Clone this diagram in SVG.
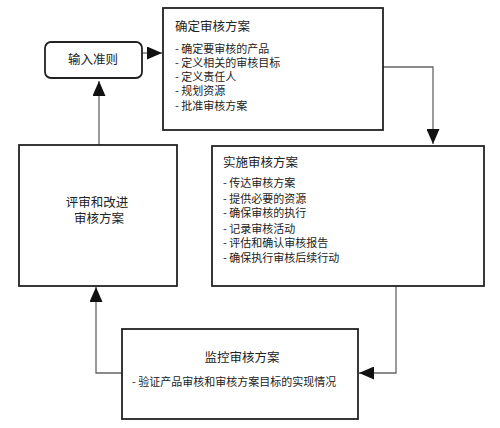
<svg xmlns="http://www.w3.org/2000/svg" width="500" height="428" viewBox="0 0 500 428">
<style>
.box{fill:#fff;stroke:#222;stroke-width:1.8}
.conn{fill:none;stroke:#666;stroke-width:1.3}
text{font-family:"Noto Sans CJK SC","Noto Sans",sans-serif;fill:#222}
.t{font-size:12.5px}
.b{font-size:11px}
</style>
<defs>
<marker id="ah" markerUnits="userSpaceOnUse" markerWidth="15" markerHeight="13" refX="15" refY="6.5" orient="auto">
<path d="M0,0 L15,6.5 L0,13 z" fill="#111"/>
</marker>
</defs>
<rect width="500" height="428" fill="#fff"/>
<g id="connectors">
<path class="conn" d="M142,53 L162,53" marker-end="url(#ah)"/>
<path class="conn" d="M383,67 L433,67 L433,144" marker-end="url(#ah)"/>
<path class="conn" d="M396,286 L396,373 L359,373" marker-end="url(#ah)"/>
<path class="conn" d="M123,373 L96,373 L96,287" marker-end="url(#ah)"/>
<path class="conn" d="M99,145 L99,81" marker-end="url(#ah)"/>
</g>
<g id="input">
<rect class="box" x="45" y="42" width="97" height="36" rx="6"/>
<text class="t" x="93" y="64" text-anchor="middle">输入准则</text>
</g>
<g id="establish">
<rect class="box" x="163" y="8" width="220" height="122"/>
<text class="t" x="175" y="31">确定审核方案</text>
<text class="b" x="175" y="53">- 确定要审核的产品</text>
<text class="b" x="175" y="67">- 定义相关的审核目标</text>
<text class="b" x="175" y="81">- 定义责任人</text>
<text class="b" x="175" y="95">- 规划资源</text>
<text class="b" x="175" y="110">- 批准审核方案</text>
</g>
<g id="implement">
<rect class="box" x="212" y="146" width="272" height="140"/>
<text class="t" x="223" y="167">实施审核方案</text>
<text class="b" x="223" y="187">- 传达审核方案</text>
<text class="b" x="223" y="203">- 提供必要的资源</text>
<text class="b" x="223" y="217">- 确保审核的执行</text>
<text class="b" x="223" y="233">- 记录审核活动</text>
<text class="b" x="223" y="247">- 评估和确认审核报告</text>
<text class="b" x="223" y="262">- 确保执行审核后续行动</text>
</g>
<g id="review">
<rect class="box" x="19" y="145" width="158" height="141"/>
<text class="t" x="97" y="207" text-anchor="middle">评审和改进</text>
<text class="t" x="99" y="223" text-anchor="middle">审核方案</text>
</g>
<g id="monitor">
<rect class="box" x="122" y="329" width="236" height="90"/>
<text class="t" x="242" y="362" text-anchor="middle">监控审核方案</text>
<text class="b" x="132" y="386">- 验证产品审核和审核方案目标的实现情况</text>
</g>
</svg>
